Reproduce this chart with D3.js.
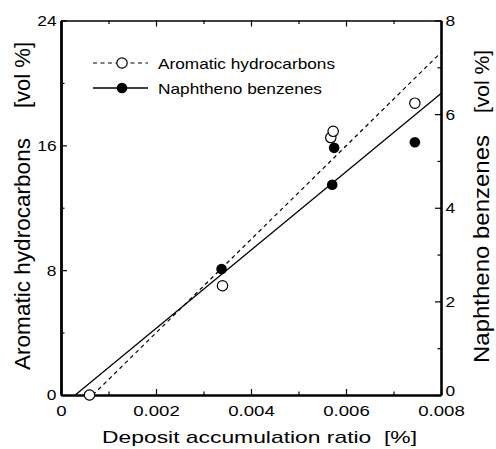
<!DOCTYPE html>
<html>
<head>
<meta charset="utf-8">
<script src="https://d3js.org/d3.v7.min.js"></script>
<style>
  body { margin: 0; background: #fff; }
  svg { display: block; font-family: "Liberation Sans", Arial, sans-serif; }
  text { white-space: pre; fill: #000; }
</style>
</head>
<body>
<svg id="canvas" width="496" height="449"></svg>
<script>
// deposit accumulation ratio [%] vs content
let ratioAromatic = [0.0006, 0.0034, 0.00568, 0.00573, 0.00745]
let aromatic = [0, 7.0, 16.5, 16.9, 18.7]          // vol %, left axis

let ratioNaphtheno = [0.0006, 0.00338, 0.00571, 0.00575, 0.00745]
let naphtheno = [0, 2.69, 4.49, 5.28, 5.40]        // vol %, right axis

// regression lines
let aromaticFitX = [0.00067, 0.008]
let aromaticFitY = [0, 21.95]
let naphthenoFitX = [0.0003, 0.008]
let naphthenoFitY = [0, 6.44]

let xTicks = [0, 0.002, 0.004, 0.006, 0.008]
let xMinor = [0.001, 0.003, 0.005, 0.007]
let leftTicks = [0, 8, 16, 24]
let leftMinor = [4, 12, 20]
let rightTicks = [0, 2, 4, 6, 8]
let rightMinor = [1, 3, 5, 7]

let svg = d3.select('#canvas')

let x = d3.scaleLinear().domain([0, 0.008]).range([61, 441])
let yLeft = d3.scaleLinear().domain([0, 24]).range([395, 20.5])
let yRight = d3.scaleLinear().domain([0, 8]).range([395, 20.5])

let fmtX = (d) => d === 0 ? '0' : d3.format('.3f')(d)

// axes, ticks point inward
let addAxis = (axis, tx, ty, width) => {
    let g = svg.append('g')
        .attr('transform', 'translate(' + tx + ',' + ty + ')')
        .call(axis)
    g.select('.domain').attr('stroke-width', width)
    g.selectAll('.tick line').attr('stroke-width', 1.2)
    g.selectAll('.tick text')
        .attr('font-size', 15.5)
        .attr('font-family', '"Liberation Sans", Arial, sans-serif')
    return g
}

// bottom
let bx = addAxis(d3.axisBottom(x).tickValues(xTicks).tickFormat(fmtX)
    .tickSizeInner(-6).tickSizeOuter(0).tickPadding(10), 0, 395, 2.6)
bx.selectAll('.tick text').attr('transform', 'scale(1.2,1)')
addAxis(d3.axisBottom(x).tickValues(xMinor).tickFormat('')
    .tickSizeInner(-3.5).tickSizeOuter(0), 0, 395, 0)

// top
addAxis(d3.axisTop(x).tickValues(xTicks).tickFormat('')
    .tickSizeInner(-6).tickSizeOuter(0), 0, 20.5, 1.4)
addAxis(d3.axisTop(x).tickValues(xMinor).tickFormat('')
    .tickSizeInner(-3.5).tickSizeOuter(0), 0, 20.5, 0)

// left
let ly = addAxis(d3.axisLeft(yLeft).tickValues(leftTicks)
    .tickSizeInner(-6).tickSizeOuter(0).tickPadding(4), 61, 0, 2.8)
ly.selectAll('.tick text').attr('transform', 'scale(1.12,1)')
addAxis(d3.axisLeft(yLeft).tickValues(leftMinor).tickFormat('')
    .tickSizeInner(-3.5).tickSizeOuter(0), 61, 0, 0)

// right
let ry = addAxis(d3.axisRight(yRight).tickValues(rightTicks)
    .tickSizeInner(-6).tickSizeOuter(0).tickPadding(4), 441, 0, 2.6)
ry.selectAll('.tick text').attr('transform', 'scale(1.12,1)')
// the 0 sits right above the 0.008 label, nudge it up a little
ry.selectAll('.tick text').filter((d) => d === 0).attr('dy', '0.05em')
addAxis(d3.axisRight(yRight).tickValues(rightMinor).tickFormat('')
    .tickSizeInner(-3.5).tickSizeOuter(0), 441, 0, 0)

// fit lines
let aromaticLine = d3.line().x((d, i) => x(aromaticFitX[i])).y((d) => yLeft(d))
let naphthenoLine = d3.line().x((d, i) => x(naphthenoFitX[i])).y((d) => yRight(d))

svg.append('path')
    .attr('d', aromaticLine(aromaticFitY))
    .attr('fill', 'none').attr('stroke', '#000')
    .attr('stroke-width', 1.2).attr('stroke-dasharray', '4,3.5')

svg.append('path')
    .attr('d', naphthenoLine(naphthenoFitY))
    .attr('fill', 'none').attr('stroke', '#000')
    .attr('stroke-width', 1.3)

// points
svg.selectAll('.naph')
    .data(naphtheno)
    .enter()
    .append('circle')
    .attr('class', 'naph')
    .attr('cx', (d, i) => x(ratioNaphtheno[i]))
    .attr('cy', (d) => yRight(d))
    .attr('r', 5.3)
    .attr('fill', '#000')

svg.selectAll('.arom')
    .data(aromatic)
    .enter()
    .append('circle')
    .attr('class', 'arom')
    .attr('cx', (d, i) => x(ratioAromatic[i]))
    .attr('cy', (d) => yLeft(d))
    .attr('r', 5.2)
    .attr('fill', '#fff')
    .attr('stroke', '#000')
    .attr('stroke-width', 1.2)

// legend
let legend = svg.append('g')
legend.append('line')
    .attr('x1', 93).attr('x2', 148).attr('y1', 63).attr('y2', 63)
    .attr('stroke', '#000').attr('stroke-width', 1.2).attr('stroke-dasharray', '4,3.5')
legend.append('circle')
    .attr('cx', 122).attr('cy', 63).attr('r', 5.2)
    .attr('fill', '#fff').attr('stroke', '#000').attr('stroke-width', 1.2)
legend.append('text')
    .attr('x', 158).attr('y', 68.5)
    .attr('font-size', 14.5)
    .attr('textLength', 177).attr('lengthAdjust', 'spacingAndGlyphs')
    .text('Aromatic hydrocarbons')

legend.append('line')
    .attr('x1', 93).attr('x2', 148).attr('y1', 88).attr('y2', 88)
    .attr('stroke', '#000').attr('stroke-width', 1.3)
legend.append('circle')
    .attr('cx', 122).attr('cy', 88).attr('r', 5.3)
    .attr('fill', '#000')
legend.append('text')
    .attr('x', 158).attr('y', 93.5)
    .attr('font-size', 14.5)
    .attr('textLength', 164).attr('lengthAdjust', 'spacingAndGlyphs')
    .text('Naphtheno benzenes')

// axis titles
svg.append('text')
    .attr('x', 102).attr('y', 443)
    .attr('font-size', 17)
    .attr('textLength', 315).attr('lengthAdjust', 'spacingAndGlyphs')
    .text('Deposit accumulation ratio  [%]')

svg.append('text')
    .attr('transform', 'translate(30,370) rotate(-90)')
    .attr('font-size', 22)
    .attr('textLength', 232).attr('lengthAdjust', 'spacingAndGlyphs')
    .text('Aromatic hydrocarbons')
svg.append('text')
    .attr('transform', 'translate(30,42) rotate(-90)')
    .attr('text-anchor', 'end')
    .attr('font-size', 22)
    .text('[vol %]')

svg.append('text')
    .attr('transform', 'translate(489,363) rotate(-90)')
    .attr('font-size', 22)
    .attr('textLength', 228).attr('lengthAdjust', 'spacingAndGlyphs')
    .text('Naphtheno benzenes')
svg.append('text')
    .attr('transform', 'translate(489,50) rotate(-90)')
    .attr('text-anchor', 'end')
    .attr('font-size', 21)
    .text('[vol %]')
</script>
</body>
</html>
